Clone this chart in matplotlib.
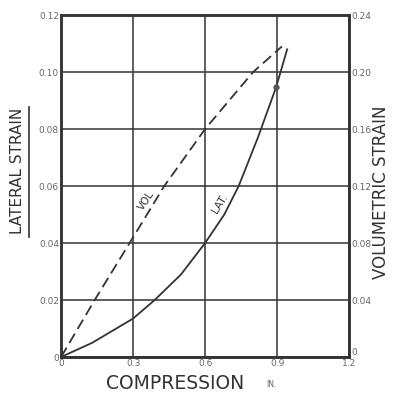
import matplotlib
matplotlib.use("Agg")
import matplotlib.pyplot as plt
from matplotlib.lines import Line2D

# Data
lat_x = [0.0, 0.13, 0.3, 0.39, 0.5, 0.6, 0.68, 0.74, 0.82, 0.896, 0.942]
lat_y = [0.0, 0.005, 0.0135, 0.02, 0.029, 0.04, 0.05, 0.06, 0.077, 0.0947, 0.108]
lat_dot_x = [0.896]
lat_dot_y = [0.0947]

vol_x = [0.0, 0.14, 0.3, 0.43, 0.6, 0.8, 0.9, 0.92]
vol_y = [0.0, 0.04, 0.084, 0.12, 0.16, 0.20, 0.215, 0.218]

x_ticks = [0, 0.3, 0.6, 0.9, 1.2]
x_labels = ["0", "0.3", "0.6", "0.9", "1.2"]
yl_ticks = [0, 0.02, 0.04, 0.06, 0.08, 0.10, 0.12]
yl_labels = ["0", "0.02", "0.04", "0.06", "0.08", "0.10", "0.12"]
yr_ticks = [0, 0.04, 0.08, 0.12, 0.16, 0.20, 0.24]
yr_labels = ["0", "0.04", "0.08", "0.12", "0.16", "0.20", "0.24"]

ink = "#333333"
tick_col = "#666666"

fig = plt.figure(figsize=(3.94, 3.93), dpi=100)
ax = fig.add_axes([0.155, 0.0916, 0.731, 0.870])
ax2 = ax.twinx()

ax.set_xlim(0, 1.2)
ax.set_ylim(0, 0.12)
ax2.set_ylim(0, 0.24)

ax.set_xticks(x_ticks)
ax.set_xticklabels(x_labels)
ax.set_yticks(yl_ticks)
ax.set_yticklabels(yl_labels)
ax2.set_yticks(yr_ticks)
ax2.set_yticklabels(yr_labels)

ax.grid(True, color=ink, linewidth=1.1)
for a in (ax, ax2):
    a.tick_params(length=0, labelsize=6.5, colors=tick_col, pad=1.5)
    for s in a.spines.values():
        s.set_color(ink)
        s.set_linewidth(1.8)
# right-hand "0" sits just above the bottom spine, clear of the "1.2" label
ax2.get_yticklabels()[0].set_va("bottom")

ax.plot(lat_x, lat_y, color=ink, linewidth=1.3, zorder=3)
ax.plot(lat_dot_x, lat_dot_y, "o", color="#555555", markersize=3.5, zorder=4)
ax2.plot(vol_x, vol_y, color=ink, linewidth=1.3, linestyle=(0, (6, 3)), zorder=3)

ax.text(0.355, 0.055, "VOL", rotation=56, fontsize=7.5, color=ink,
        ha="center", va="center")
ax.text(0.66, 0.054, "LAT.", rotation=58, fontsize=7.5, color=ink,
        ha="center", va="center")

fig.text(0.045, 0.565, "LATERAL STRAIN", rotation=90, fontsize=11,
         color=ink, ha="center", va="center")
fig.add_artist(Line2D([0.074, 0.074], [0.397, 0.728], color=ink,
                      linewidth=1.2, transform=fig.transFigure))
fig.text(0.968, 0.51, "VOLUMETRIC STRAIN", rotation=90, fontsize=12,
         color=ink, ha="center", va="center")
fig.text(0.444, 0.025, "COMPRESSION", fontsize=13.5, color=ink,
         ha="center", va="center")
fig.text(0.69, 0.022, "IN.", fontsize=5.5, color=tick_col,
         ha="center", va="center")

fig.savefig("out.png", dpi=100)
